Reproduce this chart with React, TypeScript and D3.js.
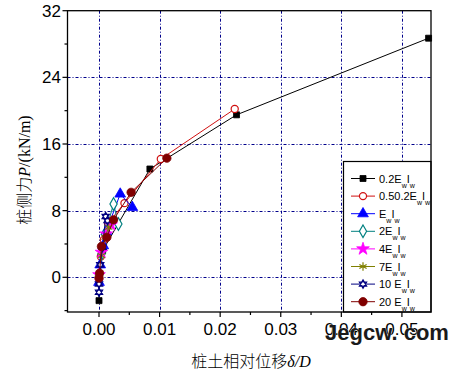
import React, { useRef, useEffect } from 'react';
import * as d3 from 'd3';

// series names (legend prefix before E_w I_w)
const seriesNames = ['0.2E', '0.50.2E', 'E', '2E', '4E', '7E', '10 E', '20 E'];
const seriesColors = ['#000000', '#d01010', '#0000ff', '#008080', '#ff00ff', '#808000', '#000080', '#800000'];

// relative displacement δ/D
const s1x = [0, 0.0001, 0.0006, 0.0084, 0.0227, 0.0544];
const s1y = [-2.8, 0.0, 3.2, 13.0, 19.5, 28.7];
const s2x = [0, 0.0003, 0.0008, 0.0015, 0.0042, 0.0102, 0.0224];
const s2y = [0, 2.5, 4.5, 6.5, 8.9, 14.2, 20.2];
const s3x = [0, 0.0002, 0.0007, 0.0012, 0.0035, 0.0055];
const s3y = [-0.6, 1.5, 3.8, 5.5, 10.0, 8.4];
const s4x = [0, 0.0004, 0.001, 0.0024, 0.0032];
const s4y = [0.2, 2.8, 5.2, 8.8, 6.4];
const s5x = [0, 0.0004, 0.0012, 0.002];
const s5y = [0.3, 3.0, 5.2, 6.3];
const s6x = [0, 0.0004, 0.001, 0.0016];
const s6y = [0.1, 2.6, 4.8, 6.0];
const s7x = [0, 0, 0.0002, 0.0006, 0.0011, 0.0014];
const s7y = [-1.8, -0.8, 1.5, 3.6, 7.3, 6.8];
const s8x = [0, 0.0001, 0.0004, 0.0013, 0.0024, 0.0053, 0.0112];
const s8y = [-0.1, 0.5, 3.7, 4.8, 6.9, 10.2, 14.3];

const allX = [s1x, s2x, s3x, s4x, s5x, s6x, s7x, s8x];
const allY = [s1y, s2y, s3y, s4y, s5y, s6y, s7y, s8y];

// axis ticks
const xMajor = [0, 0.01, 0.02, 0.03, 0.04, 0.05];
const xMinor = [0.005, 0.015, 0.025, 0.035, 0.045];
const yMajor = [0, 8, 16, 24, 32];
const yMinor = [-4, 4, 12, 20, 28];

// custom marker shapes
const asterisk = {
  draw(ctx: any, size: number) {
    const r = Math.sqrt(size) / 2;
    for (let i = 0; i < 3; i++) {
      const a = (Math.PI / 3) * i + Math.PI / 2;
      ctx.moveTo(r * Math.cos(a), r * Math.sin(a));
      ctx.lineTo(-r * Math.cos(a), -r * Math.sin(a));
    }
  },
};
const hexagram = {
  draw(ctx: any, size: number) {
    const r = Math.sqrt(size) / 2;
    for (let k = 0; k < 2; k++) {
      for (let i = 0; i < 3; i++) {
        const a = -Math.PI / 2 + k * Math.PI + (2 * Math.PI / 3) * i;
        if (i === 0) ctx.moveTo(r * Math.cos(a), r * Math.sin(a));
        else ctx.lineTo(r * Math.cos(a), r * Math.sin(a));
      }
      ctx.closePath();
    }
  },
};

const markers = [
  { type: d3.symbolSquare, size: 36, fill: true },
  { type: d3.symbolCircle, size: 40, fill: false },
  { type: d3.symbolTriangle, size: 50, fill: true },
  { type: d3.symbolDiamond, size: 45, fill: false },
  { type: d3.symbolStar, size: 50, fill: true },
  { type: asterisk, size: 70, fill: false },
  { type: hexagram, size: 70, fill: false },
  { type: d3.symbolCircle, size: 55, fill: true },
];

const App = () => {
  const ref = useRef<SVGSVGElement>(null);

  useEffect(() => {
    const svg = d3.select(ref.current);
    svg.selectAll('*').remove();
    const W = 459;
    const H = 371;
    const left = 67.5, right = 431, top = 10.7, bottom = 312;

    const x = d3.scaleLinear().domain([-0.0052, 0.0548]).range([left, right]);
    const y = d3.scaleLinear().domain([-4.165, 32]).range([bottom, top]);

    svg.append('rect').attr('width', W).attr('height', H).attr('fill', '#fff');

    // grid
    const grid = svg.append('g').attr('stroke', '#00008b').attr('stroke-width', 1)
      .attr('stroke-dasharray', '3,2,1,2');
    grid.selectAll('line.gx').data(xMajor).join('line')
      .attr('x1', (d) => Math.round(x(d)) + 0.5).attr('x2', (d) => Math.round(x(d)) + 0.5)
      .attr('y1', top).attr('y2', bottom);
    grid.selectAll('line.gy').data(yMajor.filter((d) => d < 32)).join('line')
      .attr('y1', (d) => Math.round(y(d)) + 0.5).attr('y2', (d) => Math.round(y(d)) + 0.5)
      .attr('x1', left).attr('x2', right);

    // series
    const line = d3.line<[number, number]>().x((d) => x(d[0])).y((d) => y(d[1]));
    allX.forEach((xs, i) => {
      const pts: [number, number][] = xs.map((v, j) => [v, allY[i][j]]);
      const c = seriesColors[i];
      svg.append('path').attr('d', line(pts)).attr('fill', 'none')
        .attr('stroke', c).attr('stroke-width', 1);
      const m = markers[i];
      const sym = d3.symbol().type(m.type as any).size(m.size);
      svg.append('g').selectAll('path').data(pts).join('path')
        .attr('transform', (d) => `translate(${x(d[0])},${y(d[1])})`)
        .attr('d', sym())
        .attr('fill', m.fill ? c : '#fff')
        .attr('stroke', c).attr('stroke-width', m.fill ? 0.8 : 1.2);
    });

    // legend
    const lg = svg.append('g');
    lg.append('rect').attr('x', 343.5).attr('y', 161.5).attr('width', right - 343.5).attr('height', bottom - 161.5)
      .attr('fill', '#fff').attr('stroke', '#000').attr('stroke-width', 1.2);
    seriesNames.forEach((name, i) => {
      const ly = 178.5 + i * 17.6;
      const c = seriesColors[i];
      lg.append('line').attr('x1', 351).attr('x2', 375).attr('y1', ly).attr('y2', ly)
        .attr('stroke', c).attr('stroke-width', 1);
      const m = markers[i];
      lg.append('path').attr('transform', `translate(363,${ly})`)
        .attr('d', d3.symbol().type(m.type as any).size(m.size)())
        .attr('fill', m.fill ? c : '#fff').attr('stroke', c).attr('stroke-width', m.fill ? 0.8 : 1.2);
      const t = lg.append('text').attr('x', 379).attr('y', ly + 4)
        .attr('font-family', 'Liberation Sans, Arial, sans-serif').attr('font-size', 11).attr('fill', '#000');
      t.append('tspan').text(name);
      t.append('tspan').attr('dy', 5).attr('font-size', 7).text('w');
      t.append('tspan').attr('dy', -5).text('I');
      t.append('tspan').attr('dy', 5).attr('font-size', 7).text('w');
    });

    // frame
    svg.append('rect').attr('x', left).attr('y', top).attr('width', right - left).attr('height', bottom - top)
      .attr('fill', 'none').attr('stroke', '#000').attr('stroke-width', 1.3);

    // ticks
    const ax = svg.append('g').attr('stroke', '#000').attr('stroke-width', 1.2);
    ax.selectAll('line.xM').data(xMajor).join('line')
      .attr('x1', (d) => x(d)).attr('x2', (d) => x(d)).attr('y1', bottom).attr('y2', bottom + 5);
    ax.selectAll('line.xm').data(xMinor).join('line')
      .attr('x1', (d) => x(d)).attr('x2', (d) => x(d)).attr('y1', bottom).attr('y2', bottom + 3);
    ax.selectAll('line.yM').data(yMajor).join('line')
      .attr('y1', (d) => y(d)).attr('y2', (d) => y(d)).attr('x1', left).attr('x2', left - 5);
    ax.selectAll('line.ym').data(yMinor).join('line')
      .attr('y1', (d) => y(d)).attr('y2', (d) => y(d)).attr('x1', left).attr('x2', left - 3);

    const font = 'Liberation Sans, Arial, sans-serif';
    svg.append('g').selectAll('text').data(xMajor).join('text')
      .attr('x', (d) => x(d)).attr('y', 335).attr('text-anchor', 'middle')
      .attr('font-family', font).attr('font-size', 17).text((d) => d3.format('.2f')(d));
    svg.append('g').selectAll('text').data(yMajor).join('text')
      .attr('x', 61).attr('y', (d) => y(d) + 6).attr('text-anchor', 'end')
      .attr('font-family', font).attr('font-size', 17).text((d) => d);

    // axis titles
    const cjk = '"Noto Sans CJK SC", sans-serif';
    const serif = 'Liberation Serif, serif';
    const xt = svg.append('text').attr('x', 251).attr('y', 367).attr('text-anchor', 'middle')
      .attr('font-family', cjk).attr('font-size', 16).attr('font-weight', 300);
    xt.append('tspan').text('桩土相对位移');
    xt.append('tspan').attr('font-family', serif).attr('font-style', 'italic').text('δ/D');

    const yt = svg.append('text').attr('transform', 'translate(30,170) rotate(-90)').attr('text-anchor', 'middle')
      .attr('font-family', cjk).attr('font-size', 16).attr('font-weight', 300);
    yt.append('tspan').text('桩侧力');
    yt.append('tspan').attr('font-family', serif).attr('font-style', 'italic').text('P');
    yt.append('tspan').attr('font-family', serif).text('/(kN/m)');

    // watermark
    svg.append('text').attr('x', 325).attr('y', 340).attr('font-family', font)
      .attr('font-weight', 'bold').attr('font-size', 22).attr('fill', '#1a1a1a')
      .attr('stroke', '#fff').attr('stroke-width', 0.6).attr('paint-order', 'stroke')
      .text('Jegcw. com');
  }, []);

  return (
    <svg ref={ref} width={459} height={371}
      style={{ position: 'absolute', left: 0, top: 0, display: 'block' }} />
  );
};

export default App;
